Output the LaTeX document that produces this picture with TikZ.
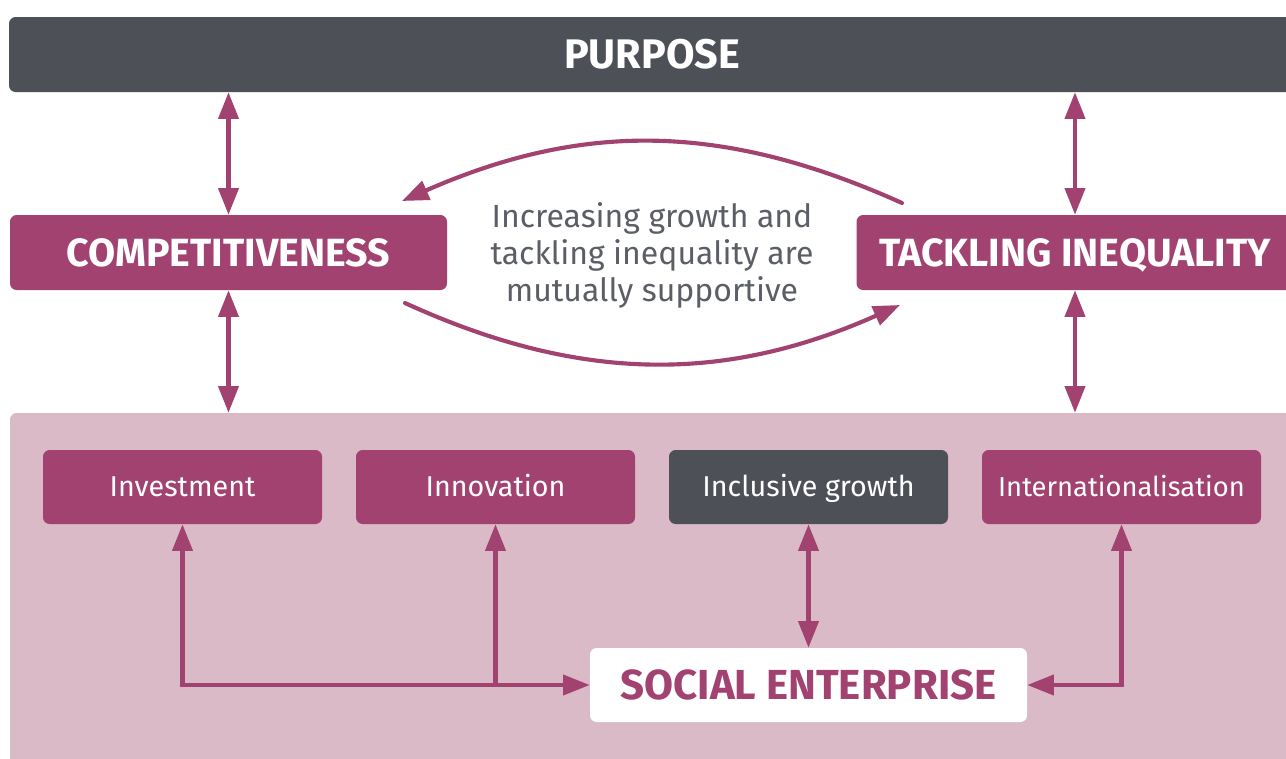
\documentclass[tikz,border=0pt]{standalone}
\usepackage{fontspec}
\setmainfont{Fira Sans}
\usetikzlibrary{arrows.meta}
\definecolor{mag}{HTML}{A24270}
\definecolor{dgray}{HTML}{4E5058}
\definecolor{pinkbg}{HTML}{DBBAC7}
\definecolor{tgray}{HTML}{5B5E66}
\begin{document}
\begin{tikzpicture}[x=0.75pt,y=-0.75pt,
  >={Triangle[width=15pt,length=20pt]},
  arr/.style={draw=mag, line width=3.1pt},
  bigbox/.style={fill=mag, text=white, rounded corners=5pt, inner sep=0pt,
    minimum width=327.75pt, minimum height=56.25pt,
    text height=20.3pt, text depth=0pt,
    font=\bfseries\fontsize{29.5}{34}\selectfont},
  smallbox/.style={fill=mag, text=white, rounded corners=5pt, inner sep=0pt,
    minimum width=209.25pt, minimum height=55.5pt,
    text height=14.8pt, text depth=0pt,
    font=\fontsize{21.5}{25}\selectfont},
  midtext/.style={text=tgray, align=center, font=\fontsize{24}{27.75}\selectfont}
]
\useasboundingbox (0,0) rectangle (1286,758);
\clip (0,0) rectangle (1286,758);
% purpose bar
\node[bigbox, fill=dgray, minimum width=964.5pt, text height=21.4pt,
  font=\bfseries\fontsize{31}{36}\selectfont] (purpose) at (652,54.5) {PURPOSE};
% pink background
\node[fill=pinkbg, rounded corners=5pt, minimum width=964.5pt, minimum height=267.75pt, inner sep=0pt] (bg) at (653,591.5) {};
% main boxes
\node[bigbox] (comp) at (228.5,252.5) {COMPETITIVENESS};
\node[bigbox] (tack) at (1075,252.5) {TACKLING INEQUALITY};
\node[midtext] (mid) at (652,255) {Increasing growth and\\tackling inequality are\\mutually supportive};
% small boxes
\node[smallbox] (inv) at (182.5,487) {Investment};
\node[smallbox] (inn) at (495.5,487) {Innovation};
\node[smallbox, fill=dgray] (inc) at (808.5,487) {Inclusive growth};
\node[smallbox, text height=14.1pt, font=\fontsize{20.5}{25}\selectfont] (int) at (1121.5,487) {Internationalisation};
\node[fill=white, text=mag, rounded corners=5pt, inner sep=0pt,
  minimum width=327.75pt, minimum height=55.5pt,
  text height=21.7pt, text depth=0pt,
  font=\bfseries\fontsize{31.5}{36}\selectfont] (se) at (808.5,685) {SOCIAL ENTERPRISE};
% vertical double arrows
\draw[arr,<->] (purpose.south -| comp.north) -- (comp.north);
\draw[arr,<->] (comp.south) -- (comp.south |- bg.north);
\draw[arr,<->] (purpose.south -| tack.north) -- (tack.north);
\draw[arr,<->] (tack.south) -- (tack.south |- bg.north);
% curved arrows
\coordinate (t1) at (902,203);
\coordinate (t2) at (402,201);
\coordinate (b1) at (405,303);
\coordinate (b2) at (900,305);
\draw[arr,line cap=round,->] (t1) .. controls (722,122) and (582,122) .. (t2);
\draw[arr,line cap=round,->] (b1) .. controls (580,383) and (725,383) .. (b2);
% bottom connectors
\draw[arr,<->] (inv.south) |- (se.west);
\draw[arr,->] (se.west -| inn.south) -- (inn.south);
\draw[arr,<->] (inc.south) -- (se.north);
\draw[arr,<->] (int.south) |- (se.east);
\end{tikzpicture}
\end{document}
